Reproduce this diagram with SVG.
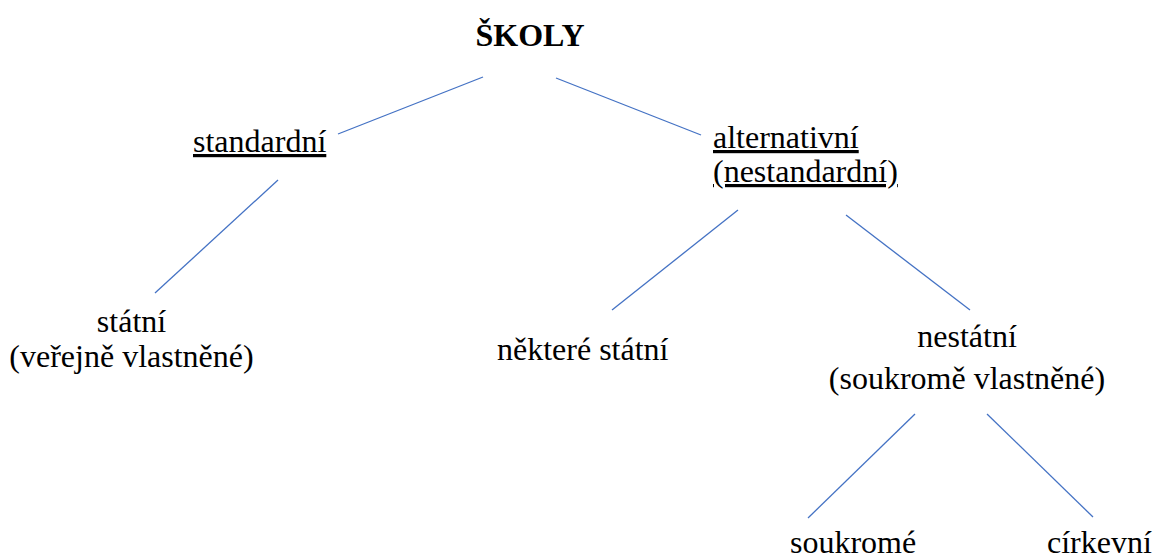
<svg xmlns="http://www.w3.org/2000/svg" width="1155" height="558" viewBox="0 0 1155 558">
<style>
text{font-family:"Liberation Serif","Times New Roman",serif;font-size:32px;fill:#000}
.b{font-weight:bold}
.u{text-decoration:underline}
.m{text-anchor:middle}
.c line{stroke:#4472C4;stroke-width:1.3;fill:none}
</style>
<rect width="1155" height="558" fill="#fff"/>
<g class="c" id="connectors">
<line x1="483" y1="77" x2="338" y2="134"/>
<line x1="556" y1="78" x2="701" y2="135"/>
<line x1="278" y1="180" x2="155" y2="293"/>
<line x1="738" y1="210" x2="612" y2="310"/>
<line x1="846" y1="215" x2="970" y2="310"/>
<line x1="915" y1="414" x2="808" y2="518"/>
<line x1="987" y1="414" x2="1093" y2="517"/>
</g>
<g id="skoly"><text class="b m" x="530" y="46">ŠKOLY</text></g>
<g id="standardni"><text class="u" x="193" y="152">standardní</text></g>
<g id="alternativni"><text class="u" x="713" y="148">alternativní</text><text class="u" x="713" y="182">(nestandardní)</text></g>
<g id="statni"><text class="m" x="131.5" y="332">státní</text><text class="m" x="131.5" y="367">(veřejně vlastněné)</text></g>
<g id="nektere"><text x="497" y="360">některé státní</text></g>
<g id="nestatni"><text class="m" x="967" y="347">nestátní</text><text class="m" x="967" y="389">(soukromě vlastněné)</text></g>
<g id="soukrome"><text x="790" y="553">soukromé</text></g>
<g id="cirkevni"><text x="1047" y="553">církevní</text></g>
</svg>
